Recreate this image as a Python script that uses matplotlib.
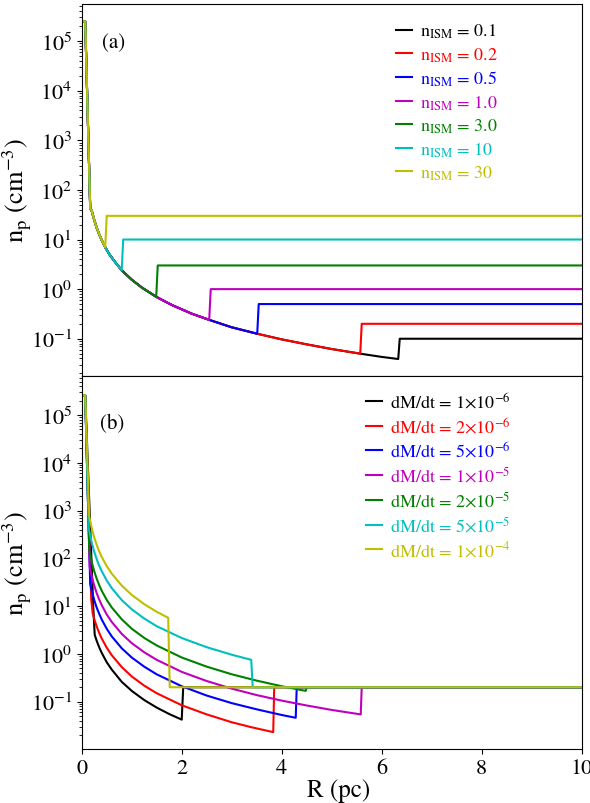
import numpy as np
import matplotlib
matplotlib.use("Agg")
import matplotlib.pyplot as plt
from matplotlib.ticker import LogLocator, LogFormatterMathtext, NullFormatter

plt.rcParams["font.family"] = "STIXGeneral"
plt.rcParams["mathtext.fontset"] = "stix"

colors = ["k", "r", "b", "m", "g", "c", "y"]

# ---- panel (a): shared wind profile, then jump to n_ISM
n_ism = [0.1, 0.2, 0.5, 1.0, 3.0, 10, 30]
ism_labels = ["0.1", "0.2", "0.5", "1.0", "3.0", "10", "30"]
r_jump_a = [6.33, 5.57, 3.51, 2.55, 1.49, 0.8, 0.47]

r_wind_a = [0.0, 0.07, 0.17, 0.2, 0.25, 0.3, 0.35, 0.4, 0.47, 0.55, 0.65, 0.8,
            1.0, 1.2, 1.49, 1.8, 2.2, 2.55, 3.0, 3.51, 4.0, 4.5, 5.0, 5.57,
            6.0, 6.33]
n_wind_a = [2.5e5, 2.5e5, 42, 38, 24.8, 17.2, 12.7, 9.7, 7.0, 5.1, 3.7, 2.4,
            1.55, 1.08, 0.70, 0.48, 0.32, 0.24, 0.17, 0.126, 0.097, 0.077,
            0.062, 0.050, 0.043, 0.039]

# ---- panel (b): different mass-loss rates, ISM at 0.2
mdot_labels = [r"1$\times$10$^{-6}$", r"2$\times$10$^{-6}$", r"5$\times$10$^{-6}$",
               r"1$\times$10$^{-5}$", r"2$\times$10$^{-5}$", r"5$\times$10$^{-5}$",
               r"1$\times$10$^{-4}$"]

r_b1 = [0.01, 0.07, 0.23, 0.26, 0.3, 0.35, 0.4, 0.5, 0.6, 0.8, 1.0, 1.25, 1.5, 1.75, 2.0, 2.03, 10]
n_b1 = [2.6e5, 2.6e5, 10, 2.5, 1.87, 1.37, 1.05, 0.67, 0.47, 0.26, 0.168, 0.108, 0.075, 0.055, 0.042, 0.2, 0.2]

r_b2 = [0.01, 0.07, 0.19, 0.22, 0.26, 0.3, 0.35, 0.4, 0.5, 0.6, 0.8, 1.0, 1.25, 1.5, 2.0, 2.5, 3.0, 3.4, 3.83, 3.85, 10]
n_b2 = [2.6e5, 2.6e5, 14, 7.0, 5.0, 3.74, 2.75, 2.1, 1.35, 0.94, 0.53, 0.337, 0.216, 0.15, 0.084, 0.054, 0.037, 0.029, 0.023, 0.2, 0.2]

r_b3 = [0.01, 0.07, 0.17, 0.2, 0.25, 0.3, 0.35, 0.4, 0.5, 0.6, 0.8, 1.0, 1.25, 1.5, 2.0, 2.5, 3.0, 3.5, 4.0, 4.28, 4.3, 10]
n_b3 = [2.6e5, 2.6e5, 29, 21, 13.4, 9.3, 6.9, 5.25, 3.36, 2.33, 1.31, 0.84, 0.54, 0.373, 0.21, 0.134, 0.093, 0.069, 0.0525, 0.0459, 0.2, 0.2]

r_b4 = [0.01, 0.07, 0.16, 0.2, 0.25, 0.3, 0.35, 0.4, 0.5, 0.6, 0.8, 1.0, 1.25, 1.5, 2.0, 2.5, 3.0, 3.5, 4.0, 4.5, 5.0, 5.58, 5.6, 10]
n_b4 = [2.6e5, 2.6e5, 66, 42, 27, 18.7, 13.7, 10.5, 6.7, 4.67, 2.63, 1.68, 1.08, 0.75, 0.42, 0.27, 0.187, 0.137, 0.105, 0.083, 0.067, 0.054, 0.2, 0.2]

r_b5 = [0.01, 0.07, 0.15, 0.2, 0.25, 0.3, 0.35, 0.4, 0.5, 0.6, 0.8, 1.0, 1.25, 1.5, 2.0, 2.5, 3.0, 3.5, 4.0, 4.48, 4.5, 10]
n_b5 = [2.6e5, 2.6e5, 150, 84, 54, 37.4, 27.5, 21, 13.5, 9.4, 5.3, 3.37, 2.16, 1.5, 0.84, 0.54, 0.374, 0.275, 0.21, 0.168, 0.2, 0.2]

r_b6 = [0.01, 0.07, 0.14, 0.17, 0.2, 0.25, 0.3, 0.35, 0.4, 0.5, 0.6, 0.8, 1.0, 1.25, 1.5, 2.0, 2.5, 3.0, 3.39, 3.42, 10]
n_b6 = [2.6e5, 2.6e5, 440, 298, 215, 138, 96, 70, 54, 34.4, 23.9, 13.4, 8.6, 5.5, 3.8, 2.15, 1.38, 0.96, 0.75, 0.2, 0.2]

r_b7 = [0.01, 0.07, 0.15, 0.2, 0.25, 0.3, 0.35, 0.4, 0.5, 0.6, 0.8, 1.0, 1.25, 1.5, 1.73, 1.76, 10]
n_b7 = [2.6e5, 2.6e5, 765, 430, 275, 191, 140, 107, 69, 48, 27, 17.2, 11, 7.6, 5.7, 0.2, 0.2]

r_b = [r_b1, r_b2, r_b3, r_b4, r_b5, r_b6, r_b7]
n_b = [n_b1, n_b2, n_b3, n_b4, n_b5, n_b6, n_b7]


def style_axis(ax):
    ax.set_yscale("log")
    ax.set_xlim(0, 10)
    ax.yaxis.set_major_locator(LogLocator(base=10, numticks=20))
    ax.yaxis.set_minor_locator(LogLocator(base=10, subs=np.arange(2, 10), numticks=20))
    ax.yaxis.set_major_formatter(LogFormatterMathtext())
    ax.yaxis.set_minor_formatter(NullFormatter())
    ax.tick_params(which="major", direction="out", length=3.5, labelsize=16)
    ax.tick_params(which="minor", direction="out", length=2)
    ax.set_ylabel(r"n$_{\rm p}$ (cm$^{-3}$)", fontsize=19)
    ax.yaxis.set_label_coords(-0.096, 0.5)


fig = plt.figure(figsize=(5.9, 8.04), dpi=100)
ax1 = fig.add_axes([0.1385, 0.5315, 0.8475, 0.4623])
ax2 = fig.add_axes([0.1385, 0.0672, 0.8475, 0.4643])

for i in range(len(n_ism)):
    k = r_wind_a.index(r_jump_a[i]) + 1
    xs = r_wind_a[:k] + [r_jump_a[i] + 0.03, 10]
    ys = n_wind_a[:k] + [n_ism[i], n_ism[i]]
    ax1.plot(xs, ys, color=colors[i], lw=1.5,
             label=r"n$_{\rm ISM}$ = " + ism_labels[i])

for i in range(len(r_b)):
    ax2.plot(r_b[i], n_b[i], color=colors[i], lw=1.5,
             label="dM/dt = " + mdot_labels[i])

style_axis(ax1)
style_axis(ax2)
ax1.set_ylim(0.018, 5.6e5)
ax2.set_ylim(0.0102, 6.7e5)
ax1.set_xticks([0, 2, 4, 6, 8, 10])
ax1.tick_params(axis="x", labelbottom=False)
ax2.set_xticks([0, 2, 4, 6, 8, 10])
ax2.set_xlabel("R (pc)", fontsize=18)
ax2.xaxis.set_label_coords(0.513, -0.078)

ax1.text(0.04, 0.898, "(a)", transform=ax1.transAxes, fontsize=15, va="center")
ax2.text(0.037, 0.872, "(b)", transform=ax2.transAxes, fontsize=15, va="center")

for ax, x0, y0, sp in [(ax1, 0.629, 0.952, 0.28), (ax2, 0.569, 0.958, 0.27)]:
    ax.legend(loc="upper left", bbox_to_anchor=(x0, y0), frameon=False,
              fontsize=13, handlelength=0.85, handletextpad=0.45,
              labelspacing=sp, borderpad=0, borderaxespad=0,
              labelcolor="linecolor")

fig.savefig("out.png", dpi=100)
